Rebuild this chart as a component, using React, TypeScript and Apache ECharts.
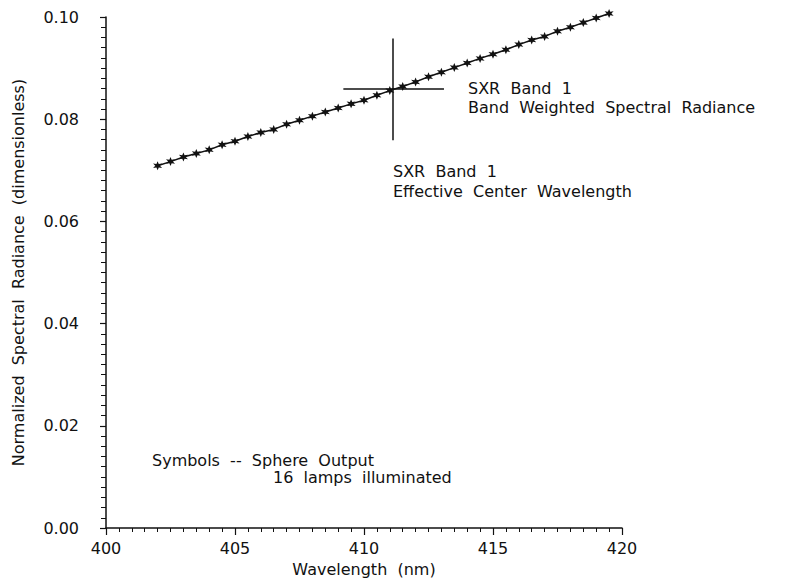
import React, { useEffect, useRef } from "react";
import * as echarts from "echarts";

const wavelengths = [
  402, 402.5, 403, 403.5, 404, 404.5, 405, 405.5, 406, 406.5, 407, 407.5,
  408, 408.5, 409, 409.5, 410, 410.5, 411, 411.5, 412, 412.5, 413, 413.5,
  414, 414.5, 415, 415.5, 416, 416.5, 417, 417.5, 418, 418.5, 419, 419.5,
];
const radiance = [
  0.0709, 0.0717, 0.0726, 0.0733, 0.074, 0.075, 0.0757, 0.0766, 0.0774, 0.078,
  0.079, 0.0798, 0.0806, 0.0814, 0.0822, 0.083, 0.0837, 0.0847, 0.0856, 0.0864,
  0.0873, 0.0883, 0.0892, 0.0901, 0.091, 0.0919, 0.0927, 0.0936, 0.0946, 0.0955,
  0.0962, 0.0972, 0.098, 0.0989, 0.0998, 0.1007,
];
// Cross marker: effective center wavelength / band weighted spectral radiance
const crossCenter = [411.1, 0.0859];
const crossXRange = [409.2, 413.1];
const crossYRange = [0.0759, 0.0958];

const xTicks = [400, 405, 410, 415, 420];
const yTicks = [0, 0.02, 0.04, 0.06, 0.08, 0.1];

const FONT = "DejaVu Sans";
const STAR =
  "path://M0 -1 L0.225 -0.39 L0.866 -0.5 L0.45 0 L0.866 0.5 L0.225 0.39 L0 1 L-0.225 0.39 L-0.866 0.5 L-0.45 0 L-0.866 -0.5 L-0.225 -0.39 Z";

export default function App() {
  const ref = useRef<HTMLDivElement>(null);
  useEffect(() => {
    if (!ref.current) return;
    const chart = echarts.init(ref.current, null, { renderer: "svg" });
    const textStyle = { fontFamily: FONT, fontSize: 16, fill: "#111" };
    chart.setOption({
      animation: false,
      backgroundColor: "#fff",
      grid: { left: 106, right: 183, top: 17, bottom: 53, containLabel: false },
      xAxis: {
        type: "value",
        min: xTicks[0],
        max: xTicks[xTicks.length - 1],
        interval: 5,
        name: "Wavelength  (nm)",
        nameLocation: "middle",
        nameGap: 33,
        nameTextStyle: { fontFamily: FONT, fontSize: 16, color: "#111" },
        axisLine: { lineStyle: { color: "#111", width: 1.5 } },
        axisTick: { length: 7, lineStyle: { color: "#111", width: 1.2 } },
        minorTick: { show: true, splitNumber: 10, length: 4, lineStyle: { color: "#111", width: 1 } },
        splitLine: { show: false },
        axisLabel: { fontFamily: FONT, fontSize: 16, color: "#111", margin: 12 },
      },
      yAxis: {
        type: "value",
        min: yTicks[0],
        max: yTicks[yTicks.length - 1],
        interval: 0.02,
        name: "Normalized  Spectral  Radiance  (dimensionless)",
        nameLocation: "middle",
        nameGap: 80,
        nameTextStyle: { fontFamily: FONT, fontSize: 16, color: "#111" },
        axisLine: { lineStyle: { color: "#111", width: 1.5 } },
        axisTick: { length: 6, lineStyle: { color: "#111", width: 1.2 } },
        minorTick: { show: true, splitNumber: 10, length: 5, lineStyle: { color: "#111", width: 1 } },
        splitLine: { show: false },
        axisLabel: {
          fontFamily: FONT,
          fontSize: 16,
          color: "#111",
          margin: 27,
          formatter: (v: number) => v.toFixed(2),
        },
      },
      series: [
        {
          type: "line",
          data: wavelengths.map((w, i) => [w, radiance[i]]),
          clip: false,
          symbol: STAR,
          symbolSize: 9,
          showAllSymbol: true,
          lineStyle: { color: "#111", width: 1.5 },
          itemStyle: { color: "#111" },
          markLine: {
            silent: true,
            symbol: "none",
            label: { show: false },
            lineStyle: { color: "#111", width: 1.5, type: "solid" },
            data: [
              [{ coord: [crossXRange[0], crossCenter[1]] }, { coord: [crossXRange[1], crossCenter[1]] }],
              [{ coord: [crossCenter[0], crossYRange[0]] }, { coord: [crossCenter[0], crossYRange[1]] }],
            ],
          },
        },
      ],
      graphic: [
        { type: "text", left: 468, top: 80, style: { ...textStyle, text: "SXR  Band  1" } },
        { type: "text", left: 468, top: 99, style: { ...textStyle, text: "Band  Weighted  Spectral  Radiance" } },
        { type: "text", left: 393, top: 163, style: { ...textStyle, text: "SXR  Band  1" } },
        { type: "text", left: 393, top: 183, style: { ...textStyle, text: "Effective  Center  Wavelength" } },
        { type: "text", left: 152, top: 452, style: { ...textStyle, text: "Symbols  --  Sphere  Output" } },
        { type: "text", left: 273, top: 469, style: { ...textStyle, text: "16  lamps  illuminated" } },
      ],
    });
    return () => chart.dispose();
  }, []);
  return (
    <div
      ref={ref}
      style={{ position: "fixed", left: 0, top: 0, width: 805, height: 582, background: "#fff" }}
    />
  );
}
